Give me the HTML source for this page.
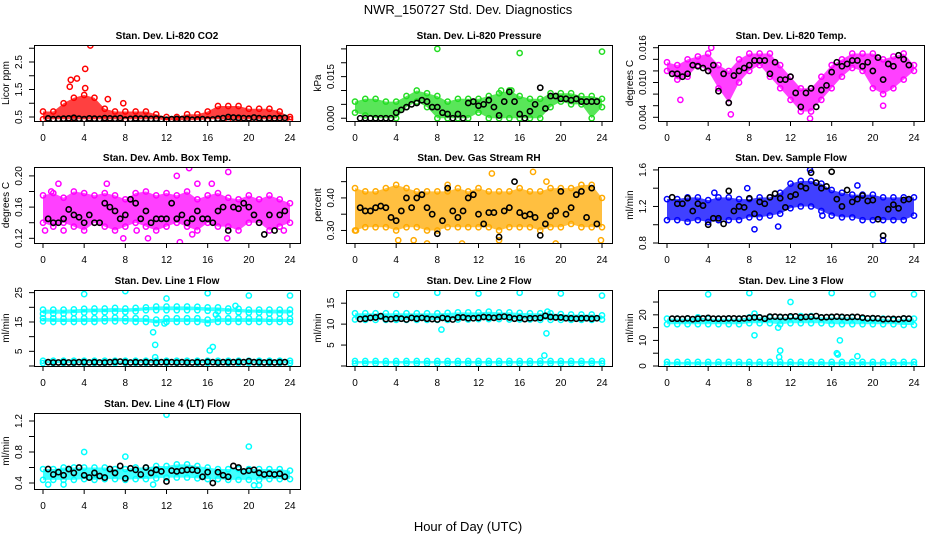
<!DOCTYPE html>
<html><head><meta charset="utf-8"><style>
html,body{margin:0;padding:0;background:#fff;}
svg{display:block;font-family:"Liberation Sans",Arial,sans-serif;}
</style></head><body>
<svg id="chart" width="936" height="540" viewBox="0 0 936 540">
<text x="468" y="14" text-anchor="middle" font-size="13">NWR_150727  Std. Dev. Diagnostics</text>
<text x="468" y="531" text-anchor="middle" font-size="13">Hour of Day (UTC)</text>
</svg>
<script>
const hours = [0,1,2,3,4,5,6,7,8,9,10,11,12,13,14,15,16,17,18,19,20,21,22,23,24];
const blackTimes = [0.5,1,1.5,2,2.5,3,3.5,4,4.5,5,5.5,6,6.5,7,7.5,8,8.5,9,9.5,10,10.5,11,11.5,12,12.5,13,13.5,14,14.5,15,15.5,16,16.5,17,17.5,18,18.5,19,19.5,20,20.5,21,21.5,22,22.5,23,23.5];
const xTicks = [0,4,8,12,16,20,24];

const co2Hi = [0.7,0.7,1.0,1.2,1.3,1.2,0.8,0.7,0.7,0.7,0.7,0.6,0.5,0.5,0.6,0.6,0.7,0.9,0.9,0.9,0.8,0.8,0.8,0.7,0.5];
const co2Lo = [0.42,0.42,0.42,0.42,0.42,0.42,0.42,0.42,0.42,0.42,0.42,0.42,0.38,0.38,0.38,0.38,0.42,0.42,0.42,0.42,0.42,0.42,0.42,0.42,0.42];
const co2Black = [0.45,0.42,0.43,0.44,0.45,0.47,0.44,0.42,0.45,0.44,0.43,0.46,0.45,0.44,0.46,0.40,0.43,0.45,0.44,0.44,0.43,0.44,0.42,0.40,0.42,0.43,0.42,0.43,0.40,0.41,0.42,0.40,0.41,0.44,0.46,0.50,0.48,0.47,0.46,0.45,0.48,0.46,0.43,0.46,0.45,0.46,0.47];
const co2OutT = [4.6,4.1,3.3,2.7,6.3,7.8,4.1,2.6];
const co2OutV = [3.1,2.25,1.9,1.85,1.15,1.0,1.55,1.6];

const presHi = [0.006,0.007,0.007,0.006,0.006,0.008,0.010,0.009,0.008,0.006,0.007,0.007,0.007,0.008,0.009,0.010,0.008,0.007,0.007,0.009,0.009,0.009,0.008,0.008,0.007];
const presLo = [0.002,0.001,0,0,0,0.004,0.006,0.004,0,0,0,0,0.002,0,0,0,0,0,0,0.004,0.006,0.005,0.005,0,0.004];
const presBlack = [0,0,0,0,0,0,0,0.002,0.003,0.004,0.005,0.0055,0.0065,0.006,0.004,0.004,0.002,0.0015,0,0.0015,0,0.0055,0.006,0.0045,0.005,0.0065,0.004,0.001,0.006,0.0095,0.006,0.0015,0,0.0025,0.005,0.011,0.0035,0.008,0.008,0.007,0.007,0.0065,0.007,0.006,0.006,0.006,0.006];
const presOutT = [8,16,24,14.2,15.2];
const presOutV = [0.025,0.0235,0.024,0.010,0.010];

const tempHi = [0.0135,0.013,0.014,0.0145,0.015,0.013,0.012,0.014,0.015,0.015,0.015,0.013,0.011,0.009,0.009,0.011,0.013,0.014,0.015,0.015,0.015,0.014,0.0145,0.015,0.013];
const tempLo = [0.012,0.0105,0.011,0.013,0.012,0.009,0.0065,0.010,0.012,0.013,0.011,0.009,0.007,0.005,0.005,0.007,0.009,0.011,0.0125,0.012,0.009,0.008,0.009,0.0105,0.012];
const tempBlack = [0.0115,0.0115,0.011,0.0115,0.013,0.0128,0.0125,0.012,0.013,0.0085,0.0115,0.0065,0.0112,0.012,0.0125,0.013,0.0138,0.0138,0.0138,0.0115,0.0135,0.0105,0.0105,0.011,0.0082,0.0058,0.0082,0.009,0.0058,0.0087,0.0095,0.0118,0.0135,0.0128,0.0132,0.0138,0.0138,0.0128,0.0135,0.012,0.0143,0.0105,0.0132,0.0128,0.0147,0.014,0.013];
const tempOutT = [4.3,13.9,6.2,1.3,21];
const tempOutV = [0.016,0.0038,0.0045,0.007,0.006];

const ambHi = [0.175,0.178,0.172,0.18,0.178,0.175,0.178,0.175,0.17,0.178,0.18,0.175,0.178,0.175,0.18,0.17,0.175,0.178,0.172,0.17,0.175,0.17,0.175,0.17,0.165];
const ambLo = [0.14,0.135,0.14,0.135,0.13,0.14,0.135,0.13,0.135,0.14,0.135,0.13,0.135,0.14,0.135,0.13,0.14,0.135,0.135,0.13,0.14,0.14,0.13,0.135,0.14];
const ambBlack = [0.145,0.14,0.14,0.145,0.157,0.15,0.147,0.14,0.15,0.14,0.14,0.165,0.16,0.155,0.145,0.15,0.17,0.165,0.145,0.155,0.14,0.145,0.145,0.145,0.165,0.145,0.15,0.14,0.145,0.155,0.145,0.145,0.14,0.155,0.16,0.13,0.16,0.158,0.165,0.16,0.15,0.14,0.125,0.15,0.13,0.15,0.155];
const ambOutT = [0.8,1.5,6.2,13,14.2,15,16.4,18,0.2,2,7.8,9.1,10.2,13.3,14.5,17.9,23.4];
const ambOutV = [0.18,0.19,0.19,0.2,0.21,0.19,0.19,0.205,0.13,0.13,0.12,0.13,0.12,0.115,0.125,0.12,0.13];

const rhHi = [0.43,0.42,0.42,0.43,0.44,0.43,0.42,0.42,0.42,0.42,0.43,0.42,0.43,0.42,0.42,0.42,0.43,0.42,0.42,0.43,0.43,0.43,0.44,0.44,0.40];
const rhLo = [0.30,0.31,0.31,0.31,0.30,0.31,0.31,0.30,0.30,0.31,0.31,0.31,0.31,0.31,0.30,0.31,0.31,0.31,0.30,0.31,0.31,0.32,0.31,0.31,0.31];
const rhBlack = [0.37,0.36,0.36,0.37,0.375,0.37,0.34,0.33,0.36,0.40,0.37,0.40,0.41,0.37,0.35,0.29,0.33,0.43,0.36,0.34,0.36,0.40,0.41,0.35,0.32,0.355,0.355,0.28,0.36,0.37,0.45,0.355,0.345,0.35,0.34,0.285,0.32,0.345,0.36,0.42,0.35,0.37,0.41,0.42,0.34,0.43,0.32];
const rhOutT = [13.3,17.3,0.1,4.2,5.7,7,10.4,14,19.5,23.9,9,18.6];
const rhOutV = [0.475,0.48,0.30,0.27,0.27,0.26,0.26,0.27,0.26,0.27,0.44,0.45];

const flowHi = [1.28,1.28,1.3,1.3,1.27,1.3,1.3,1.28,1.28,1.3,1.3,1.35,1.45,1.48,1.48,1.45,1.38,1.35,1.33,1.33,1.33,1.3,1.3,1.3,1.3];
const flowLo = [1.05,1.05,1.03,1.05,1.03,1.05,1.05,1.05,1.08,1.08,1.1,1.12,1.18,1.2,1.2,1.15,1.1,1.08,1.08,1.05,1.05,1.05,1.05,1.05,1.1];
const flowBlack = [1.3,1.23,1.23,1.29,1.15,1.23,1.21,1.0,1.07,1.07,1.01,1.37,1.15,1.2,1.19,1.29,1.12,1.25,1.23,1.3,1.34,1.29,1.19,1.31,1.33,1.42,1.4,1.57,1.46,1.4,1.42,1.58,1.28,1.2,1.38,1.25,1.28,1.32,1.26,1.27,1.06,0.88,1.17,1.22,1.18,1.27,1.28];
const flowOutT = [13.9,4.6,7.8,8.5,21,10.8,15.1,18.5];
const flowOutV = [1.6,1.35,1.4,0.95,0.83,0.98,1.1,1.43];

const l1UpHi = [19.2,19.2,19.2,19.3,19.5,19.6,19.6,19.8,19.6,19.8,20,20.3,20.3,20.3,20.3,20.2,20,20,19.6,19.5,19.2,19.2,19.2,19.2,19.2];
const l1UpLo = [17.8,17.8,17.8,18,18.2,18.3,18.3,18.4,18.4,18.6,19,19,19,19,19,19,18.8,18.6,18.6,18.3,18.2,18.2,17.9,17.9,17.9];
const l1MidHi = [16.3,16.3,16.2,16.2,16.3,16.3,16.3,16.5,16.3,16.3,16.3,15.8,16.3,16.3,16.3,16.3,15.8,16.3,16.3,16.3,16.3,16.3,16.1,16.1,16.1];
const l1MidLo = [15.2,15,15,15,15,15,15.2,15.2,15.2,15,15,14.5,15,15,15,15,14.5,15,15,15,15,15,15,15,15];
const l1BotHi = [1.8,1.8,1.8,1.8,1.8,1.8,1.8,1.8,1.8,1.8,1.8,1.8,1.8,1.8,1.8,1.8,1.8,1.8,1.8,1.8,1.8,1.8,1.8,1.8,1.8];
const l1BotLo = [1.0,1.0,1.0,1.0,1.0,1.0,1.0,1.0,1.0,1.0,1.0,1.0,1.0,1.0,1.0,1.0,1.0,1.0,1.0,1.0,1.0,1.0,1.0,1.0,1.0];
const l1Black = [1.3,1.2,1.2,1.3,1.2,1.2,1.3,1.3,1.2,1.3,1.2,1.2,1.3,1.4,1.5,1.3,1.2,1.3,1.2,1.3,1.2,1.2,1.3,1.3,1.3,1.2,1.3,1.2,1.2,1.3,1.2,1.4,1.3,1.2,1.3,1.3,1.3,1.4,1.3,1.6,1.3,1.3,1.2,1.3,1.2,1.3,1.3];
const l1OutT = [4,8,12,16,20,24,10.7,10.9,10.9,16.2,16.5,18.7,11.8,16.8];
const l1OutV = [24.5,25.5,23,24.8,24,24,11.5,7.2,3,5.3,6.5,20.5,14.5,17.5];

const l2Hi = [12.6,12.6,12.6,12.6,12.6,12.6,12.6,12.6,12.6,12.7,12.8,12.8,12.8,13,12.8,12.8,12.7,12.6,12.6,12.6,12.4,12.3,12.3,12.3,12.1];
const l2Lo = [11.1,11,11,11,11,11,11,11,11,11,11.1,11.1,11.2,11.2,11.2,11.1,11.1,11.1,11,11,11,11,11,11,11.1];
const l2BotHi = [1.2,1.2,1.2,1.2,1.2,1.2,1.2,1.2,1.2,1.2,1.2,1.2,1.2,1.2,1.2,1.2,1.2,1.2,1.2,1.2,1.2,1.2,1.2,1.2,1.2];
const l2BotLo = [0.6,0.6,0.6,0.6,0.6,0.6,0.6,0.6,0.6,0.6,0.6,0.6,0.6,0.6,0.6,0.6,0.6,0.6,0.6,0.6,0.6,0.6,0.6,0.6,0.6];
const l2Black = [11.2,11.3,11.5,11.6,11.9,11.2,11.2,11.4,11.3,11.1,11.5,11.3,11.5,11.3,11.2,11.1,11.5,11.3,11.1,11.6,11.6,11.4,11.4,11.5,11.7,11.6,11.5,11.7,11.8,11.6,11.3,11.5,11.2,11.4,11.4,11.5,12.0,11.7,11.6,11.6,11.4,11.4,11.3,11.4,11.4,11.3,11.4];
const l2OutT = [4,8,12,16,20,24,8.4,18.6,18.4,18.7];
const l2OutV = [17,17.5,17.3,17.5,17.3,16.8,8.7,7.8,2.5,13];

const l3Hi = [18.5,18.5,18.5,19,18.5,18.5,18.5,18.5,19,19,19,19,19,19.5,19.5,19,19,19,19,18.5,18.5,18.5,18,18.5,18.5];
const l3Lo = [16.3,16.3,16.3,16.3,16.3,16.3,16.3,16.3,16.7,16.7,16.7,16.3,16.7,16.7,16.7,16.7,16.3,16.3,16.3,16.3,16.3,16.3,16.3,16,16];
const l3BotHi = [1.6,1.6,1.6,1.6,1.6,1.6,1.6,1.6,1.6,1.6,1.6,1.6,1.6,1.6,1.6,1.6,1.6,1.6,1.6,1.6,1.6,1.6,1.6,1.6,1.6];
const l3BotLo = [0.6,0.6,0.6,0.6,0.6,0.6,0.6,0.6,0.6,0.6,0.6,0.6,0.6,0.6,0.6,0.6,0.6,0.6,0.6,0.6,0.6,0.6,0.6,0.6,0.6];
const l3Black = [18.5,18.5,18.4,18.6,18.3,18.5,18.6,18.8,18.5,18.5,18.5,18.6,18.6,18.5,18.6,18.8,19,19,18.5,19.3,19.3,19.2,19.1,19.4,19.4,19,19.2,19.3,19.5,19,19.1,19.2,19.3,19.2,19,19.2,19.2,18.9,18.6,18.7,18.6,18.3,18.4,18.4,18.3,18.6,18.5];
const l3OutT = [4,8,12,16,20,24,8.5,11,10.9,16.5,16.6,16.8,18.5,10.8,8.5];
const l3OutV = [28,28.5,25,28.5,28,28,12,6,3.5,5,4.5,10,3.8,15,20.5];

const l4Hi = [0.58,0.58,0.6,0.6,0.6,0.6,0.6,0.58,0.58,0.6,0.6,0.62,0.62,0.64,0.64,0.62,0.6,0.58,0.58,0.58,0.58,0.58,0.58,0.58,0.56];
const l4Lo = [0.44,0.44,0.44,0.44,0.45,0.44,0.45,0.45,0.44,0.45,0.45,0.46,0.47,0.47,0.47,0.46,0.45,0.45,0.44,0.44,0.44,0.44,0.45,0.45,0.45];
const l4Black = [0.58,0.51,0.54,0.5,0.58,0.53,0.6,0.5,0.47,0.53,0.49,0.47,0.58,0.53,0.62,0.46,0.59,0.57,0.51,0.6,0.53,0.57,0.55,0.42,0.56,0.55,0.56,0.57,0.57,0.56,0.48,0.54,0.4,0.54,0.5,0.48,0.62,0.6,0.55,0.56,0.57,0.53,0.51,0.52,0.51,0.52,0.48];
const l4OutT = [4,8,12,20,0.5,2,10.7,20.5,21];
const l4OutV = [0.8,0.74,1.28,0.87,0.38,0.38,0.38,0.37,0.37];

const NS = 'http://www.w3.org/2000/svg';
const svg = document.getElementById('chart');
function mk(tag, attrs, parent){ const e=document.createElementNS(NS,tag); for(const k in attrs) e.setAttribute(k,attrs[k]); (parent||svg).appendChild(e); return e; }

const panels = [
 {name:'li820-co2',title:'Stan. Dev. Li-820 CO2',ylab:'Licor ppm',col:0,row:0,ymin:0.355,ymax:3.118,ticks:[0.5,1,1.5,2,2.5,3],labels:[0.5,1.5,2.5],fmt:1,color:'#ff0000',bands:[[co2Hi,co2Lo]],black:co2Black,outT:co2OutT,outV:co2OutV},
 {name:'li820-pressure',title:'Stan. Dev. Li-820 Pressure',ylab:'kPa',col:1,row:0,ymin:-0.001,ymax:0.0264,ticks:[0,0.005,0.01,0.015,0.02,0.025],labels:[0,0.015],fmt:3,color:'#22dd22',bands:[[presHi,presLo]],black:presBlack,outT:presOutT,outV:presOutV},
 {name:'li820-temp',title:'Stan. Dev. Li-820 Temp.',ylab:'degrees C',col:2,row:0,ymin:0.00336,ymax:0.01647,ticks:[0.004,0.006,0.008,0.01,0.012,0.014,0.016],labels:[0.004,0.01,0.016],fmt:3,color:'#ff00ff',bands:[[tempHi,tempLo]],black:tempBlack,outT:tempOutT,outV:tempOutV},
 {name:'amb-box-temp',title:'Stan. Dev. Amb. Box Temp.',ylab:'degrees C',col:0,row:1,ymin:0.114,ymax:0.2114,ticks:[0.12,0.14,0.16,0.18,0.2],labels:[0.12,0.16,0.2],fmt:2,color:'#ff00ff',bands:[[ambHi,ambLo]],black:ambBlack,outT:ambOutT,outV:ambOutV},
 {name:'gas-stream-rh',title:'Stan. Dev. Gas Stream RH',ylab:'percent',col:1,row:1,ymin:0.2615,ymax:0.495,ticks:[0.3,0.35,0.4,0.45],labels:[0.3,0.4],fmt:2,color:'#ffaa00',bands:[[rhHi,rhLo]],black:rhBlack,outT:rhOutT,outV:rhOutV},
 {name:'sample-flow',title:'Stan. Dev. Sample Flow',ylab:'ml/min',col:2,row:1,ymin:0.8,ymax:1.632,ticks:[0.8,1,1.2,1.4,1.6],labels:[0.8,1.2,1.6],fmt:1,color:'#0000ff',bands:[[flowHi,flowLo]],black:flowBlack,outT:flowOutT,outV:flowOutV},
 {name:'line1-flow',title:'Stan. Dev. Line 1 Flow',ylab:'ml/min',col:0,row:2,ymin:0,ymax:25.9,ticks:[0,5,10,15,20,25],labels:[5,15,25],fmt:0,color:'#00ffff',bands:[[l1UpHi,l1UpLo],[l1MidHi,l1MidLo],[l1BotHi,l1BotLo]],black:l1Black,outT:l1OutT,outV:l1OutV},
 {name:'line2-flow',title:'Stan. Dev. Line 2 Flow',ylab:'ml/min',col:1,row:2,ymin:0,ymax:18.15,ticks:[0,5,10,15],labels:[5,10,15],fmt:0,color:'#00ffff',bands:[[l2Hi,l2Lo],[l2BotHi,l2BotLo]],black:l2Black,outT:l2OutT,outV:l2OutV},
 {name:'line3-flow',title:'Stan. Dev. Line 3 Flow',ylab:'ml/min',col:2,row:2,ymin:0,ymax:29.7,ticks:[0,5,10,15,20,25],labels:[0,10,20],fmt:0,color:'#00ffff',bands:[[l3Hi,l3Lo],[l3BotHi,l3BotLo]],black:l3Black,outT:l3OutT,outV:l3OutV},
 {name:'line4-flow',title:'Stan. Dev. Line 4 (LT) Flow',ylab:'ml/min',col:0,row:3,ymin:0.3226,ymax:1.303,ticks:[0.4,0.6,0.8,1,1.2],labels:[0.4,0.8,1.2],fmt:1,color:'#00ffff',bands:[[l4Hi,l4Lo]],black:l4Black,outT:l4OutT,outV:l4OutV}
];
const colX=[34,346,658], rowY=[45,167,290,413], W=266, H=76;

panels.forEach(p=>{
  const L=colX[p.col], T=rowY[p.row], B=T+H;
  const g=mk('g',{});
  
  
  const xs=t=>L+9+t*(247/24);
  const ys=v=>B-(v-p.ymin)/(p.ymax-p.ymin)*H;
  const clip='clip-'+p.name;
  const cp=mk('clipPath',{id:clip},g); mk('rect',{x:L,y:T,width:W,height:H},cp);
  const data=mk('g',{'clip-path':'url(#'+clip+')'},g);
  p.bands.forEach((bd,bi)=>{
    const hi=bd[0], lo=bd[1];
    let pts=hours.map((t,i)=>xs(t)+','+ys(hi[i])).concat(hours.map((t,i)=>xs(t)+','+ys(lo[i])).reverse());
    const poly=mk('polygon',{points:pts.join(' '),fill:p.color,'fill-opacity':0.75,stroke:'none'},data);
    
    
    hours.forEach((t,i)=>{
      [hi[i],lo[i]].forEach(v=>{
        const c=mk('circle',{cx:xs(t),cy:ys(v),r:2.6,fill:'none',stroke:p.color,'stroke-width':1.5},data);
        
        
      });
    });
  });
  p.outT.forEach((t,i)=>{
    const c=mk('circle',{cx:xs(t),cy:ys(p.outV[i]),r:2.6,fill:'none',stroke:p.color,'stroke-width':1.5},data);
    
    
  });
  blackTimes.forEach((t,i)=>{
    const c=mk('circle',{cx:xs(t),cy:ys(p.black[i]),r:2.6,fill:'none',stroke:'#000','stroke-width':1.6},data);
    
    
  });
  const box=mk('rect',{x:L+0.5,y:T+0.5,width:W,height:H,fill:'none',stroke:'#000','stroke-width':1},g);
  
  
  const tt=mk('text',{x:L+W/2,y:T-6,'text-anchor':'middle','font-size':10,'font-weight':'bold'},g);
  tt.textContent=p.title;
  
  
  xTicks.forEach(t=>{
    mk('line',{x1:xs(t),x2:xs(t),y1:B,y2:B+5,stroke:'#000'},g);
    const lb=mk('text',{x:xs(t),y:B+20,'text-anchor':'middle','font-size':10},g);
    lb.textContent=t;
    
    
  });
  p.ticks.forEach(v=>{ mk('line',{x1:L-5,x2:L,y1:ys(v),y2:ys(v),stroke:'#000'},g); });
  p.labels.forEach(v=>{
    const y=ys(v), x=L-12;
    const lb=mk('text',{x:x,y:y,'text-anchor':'middle','font-size':10,transform:'rotate(-90 '+x+' '+y+')'},g);
    lb.textContent=v.toFixed(p.fmt);
    
    
  });
  const yx=L-25, yy=T+H/2;
  const yl=mk('text',{x:yx,y:yy,'text-anchor':'middle','font-size':10,transform:'rotate(-90 '+yx+' '+yy+')'},g);
  yl.textContent=p.ylab;
  
  
});
</script>
</body></html>
